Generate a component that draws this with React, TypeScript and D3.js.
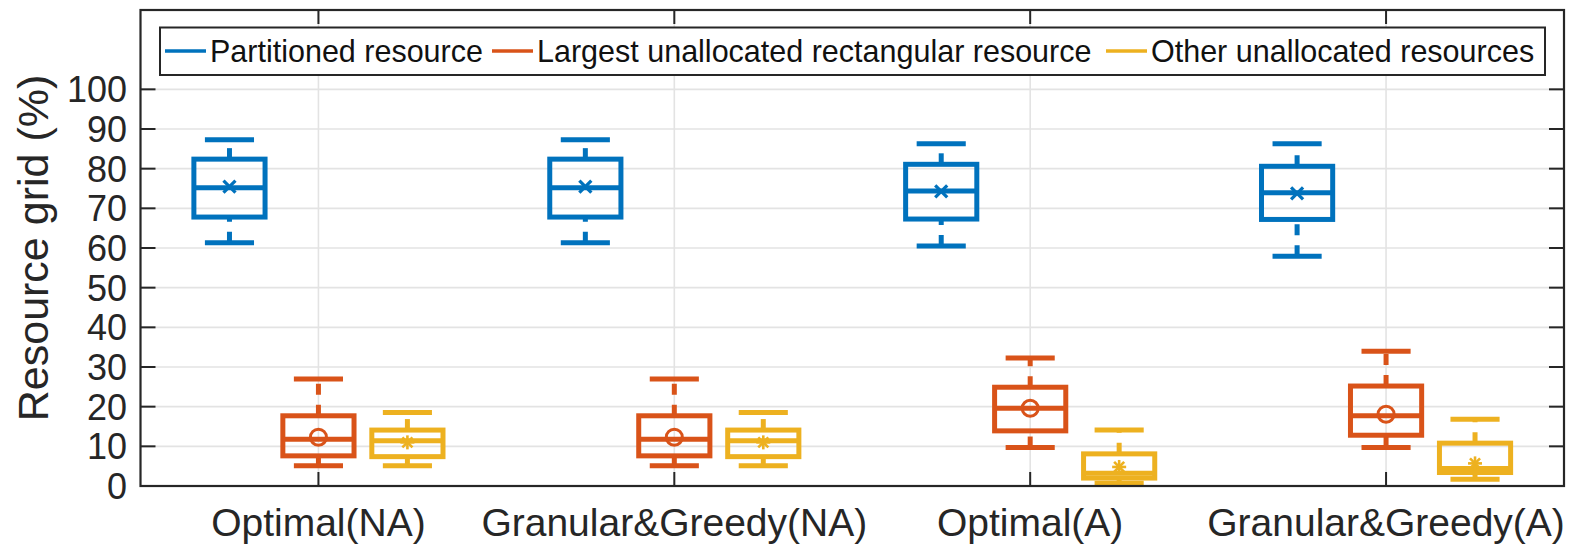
import * as d3 from 'd3';

// categories on the x axis
const categories = ['Optimal(NA)', 'Granular&Greedy(NA)', 'Optimal(A)', 'Granular&Greedy(A)'];
const seriesNames = [
  'Partitioned resource',
  'Largest unallocated rectangular resource',
  'Other unallocated resources'
];
const seriesColors = ['#0072BD', '#D95319', '#EDB120'];
const yTicks = [0, 10, 20, 30, 40, 50, 60, 70, 80, 90, 100];

// box statistics per series, one value per category
const partLower = [61.3, 61.3, 60.5, 57.9];
const partQ1 = [67.8, 67.8, 67.3, 67.2];
const partMedian = [75.2, 75.2, 74.4, 73.9];
const partQ3 = [82.4, 82.4, 81.1, 80.6];
const partUpper = [87.3, 87.3, 86.3, 86.3];
const partMean = [75.5, 75.5, 74.3, 73.8];

const largeLower = [5.1, 5.1, 9.7, 9.7];
const largeQ1 = [7.6, 7.6, 13.9, 12.8];
const largeMedian = [11.8, 11.8, 19.6, 17.7];
const largeQ3 = [17.7, 17.7, 24.9, 25.2];
const largeUpper = [27.0, 27.0, 32.3, 34.0];
const largeMean = [12.3, 12.3, 19.6, 18.1];

const otherLower = [5.1, 5.1, 0.7, 1.7];
const otherQ1 = [7.4, 7.4, 2.0, 3.4];
const otherMedian = [11.4, 11.4, 3.2, 4.4];
const otherQ3 = [14.1, 14.1, 8.1, 10.8];
const otherUpper = [18.5, 18.5, 14.1, 16.8];
const otherMean = [11.0, 11.0, 4.8, 5.7];

const series = [
  { lower: partLower, q1: partQ1, median: partMedian, q3: partQ3, upper: partUpper, mean: partMean, marker: 'x' },
  { lower: largeLower, q1: largeQ1, median: largeMedian, q3: largeQ3, upper: largeUpper, mean: largeMean, marker: 'o' },
  { lower: otherLower, q1: otherQ1, median: otherMedian, q3: otherQ3, upper: otherUpper, mean: otherMean, marker: '*' }
];

const W = 1575;
const H = 545;
const left = 140.5;
const right = 1564;
const top = 10;
const bottom = 486;
const axisColor = '#262626';
const font = '"Liberation Sans", Arial, Helvetica, sans-serif';

export default function App() {
  const x = d3.scaleLinear().domain([0.5, 4.5]).range([left, right]);
  const y = d3.scaleLinear().domain([0, 120]).range([bottom, top]);
  const unit = x(1) - x(0);
  const offset = 0.25 * unit;
  const halfBox = 0.1 * unit;
  const halfCap = 0.069 * unit;
  const lw = 5;

  const marker = (type: string, cx: number, cy: number, color: string) => {
    if (type === 'x') {
      const s = 6;
      return (
        <g stroke={color} strokeWidth={3.2}>
          <line x1={cx - s} y1={cy - s} x2={cx + s} y2={cy + s} />
          <line x1={cx - s} y1={cy + s} x2={cx + s} y2={cy - s} />
        </g>
      );
    }
    if (type === 'o') {
      return <circle cx={cx} cy={cy} r={8} fill="none" stroke={color} strokeWidth={3} />;
    }
    const s = 7;
    const d = s * 0.72;
    return (
      <g stroke={color} strokeWidth={2.6}>
        <line x1={cx - s} y1={cy} x2={cx + s} y2={cy} />
        <line x1={cx} y1={cy - s} x2={cx} y2={cy + s} />
        <line x1={cx - d} y1={cy - d} x2={cx + d} y2={cy + d} />
        <line x1={cx - d} y1={cy + d} x2={cx + d} y2={cy - d} />
      </g>
    );
  };

  const legendItems = [
    { lineX: 165, textX: 210 },
    { lineX: 492, textX: 537 },
    { lineX: 1106, textX: 1151 }
  ];

  return (
    <div style={{ position: 'absolute', left: 0, top: 0 }}>
      <svg width={W} height={H} style={{ display: 'block', background: '#fff' }} fontFamily={font}>
        {/* grid */}
        <g stroke="#e3e3e3" strokeWidth={1.6}>
          {yTicks.map(t => (
            <line key={'gy' + t} x1={left} x2={right} y1={y(t)} y2={y(t)} />
          ))}
          {categories.map((c, i) => (
            <line key={'gx' + c} x1={x(i + 1)} x2={x(i + 1)} y1={top} y2={bottom} />
          ))}
        </g>

        {/* boxes: whiskers are drawn from the lower value upward so the dashes start there */}
        {series.map((s, si) => (
          <g key={'s' + si} stroke={seriesColors[si]} fill="none" strokeWidth={lw}>
            {categories.map((c, ci) => {
              const cx = x(ci + 1) + (si - 1) * offset;
              return (
                <g key={c}>
                  <line x1={cx} x2={cx} y1={y(s.q3[ci])} y2={y(s.upper[ci])} strokeDasharray="11,10" />
                  <line x1={cx} x2={cx} y1={y(s.lower[ci])} y2={y(s.q1[ci])} strokeDasharray="11,10" />
                  <line x1={cx - halfCap} x2={cx + halfCap} y1={y(s.upper[ci])} y2={y(s.upper[ci])} />
                  <line x1={cx - halfCap} x2={cx + halfCap} y1={y(s.lower[ci])} y2={y(s.lower[ci])} />
                  <rect
                    x={cx - halfBox}
                    y={y(s.q3[ci])}
                    width={2 * halfBox}
                    height={y(s.q1[ci]) - y(s.q3[ci])}
                  />
                  <line x1={cx - halfBox} x2={cx + halfBox} y1={y(s.median[ci])} y2={y(s.median[ci])} />
                  {marker(s.marker, cx, y(s.mean[ci]), seriesColors[si])}
                </g>
              );
            })}
          </g>
        ))}

        {/* axes box and ticks */}
        <rect x={left} y={top} width={right - left} height={bottom - top} fill="none" stroke={axisColor} strokeWidth={2.2} />
        <g stroke={axisColor} strokeWidth={2}>
          {yTicks.map(t => (
            <g key={'ty' + t}>
              <line x1={left} x2={left + 15} y1={y(t)} y2={y(t)} />
              <line x1={right - 15} x2={right} y1={y(t)} y2={y(t)} />
            </g>
          ))}
          {categories.map((c, i) => (
            <g key={'tx' + c}>
              <line x1={x(i + 1)} x2={x(i + 1)} y1={bottom} y2={bottom - 14} />
              <line x1={x(i + 1)} x2={x(i + 1)} y1={top} y2={top + 14} />
            </g>
          ))}
        </g>

        {/* tick labels */}
        <g fill={axisColor} fontSize={36}>
          {yTicks.map(t => (
            <text key={'ly' + t} x={127} y={y(t) + 13} textAnchor="end">
              {t}
            </text>
          ))}
        </g>
        <g fill={axisColor} fontSize={39}>
          {categories.map((c, i) => (
            <text key={'lx' + c} x={x(i + 1)} y={536} textAnchor="middle">
              {c}
            </text>
          ))}
        </g>
        <text
          transform={`translate(48, ${(top + bottom) / 2}) rotate(-90)`}
          textAnchor="middle"
          fontSize={43}
          fill={axisColor}
        >
          Resource grid (%)
        </text>

        {/* legend */}
        <rect x={160} y={27.5} width={1385} height={47.5} fill="#fff" stroke={axisColor} strokeWidth={2} />
        {seriesNames.map((n, i) => (
          <g key={'lg' + i}>
            <line
              x1={legendItems[i].lineX}
              x2={legendItems[i].lineX + 41}
              y1={51}
              y2={51}
              stroke={seriesColors[i]}
              strokeWidth={3.5}
            />
            <text x={legendItems[i].textX} y={62} fontSize={30.5} fill="#111">
              {n}
            </text>
          </g>
        ))}
      </svg>
    </div>
  );
}
